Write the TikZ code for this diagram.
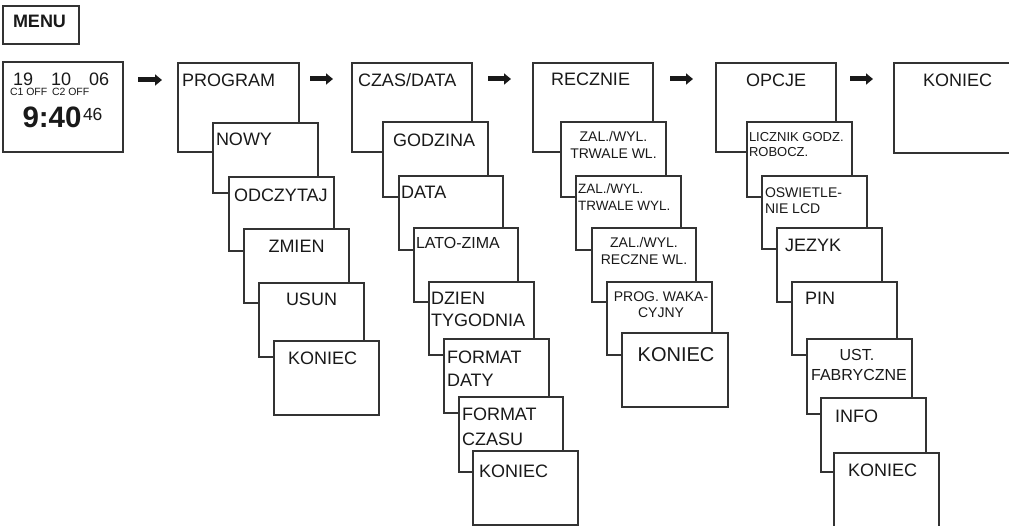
\documentclass[tikz,border=0pt]{standalone}
\usepackage{fontspec}
\setmainfont{Liberation Sans}
\usetikzlibrary{calc,arrows.meta}
\begin{document}
\begin{tikzpicture}[x=1pt,y=-1pt,
  box/.style={draw=black!80, line width=1.1pt, fill=white, inner sep=0pt, outer sep=0pt, anchor=north west},
  txt/.style={inner sep=0pt, outer sep=0pt, text=black!90, font=\fontsize{18}{21}\selectfont},
  mid/.style={txt, font=\fontsize{16}{19}\selectfont},
  sm/.style={txt, font=\fontsize{14}{16}\selectfont},
  xs/.style={txt, font=\fontsize{13.5}{16}\selectfont},
  big/.style={txt, font=\fontsize{20}{23}\selectfont},
  bigarrow/.style={draw=black!90, line width=5pt, -{Triangle[length=7pt,width=11pt]}}
]
\useasboundingbox (0,0) rectangle (1009,526);
\clip (0,0) rectangle (1009,526);

% MENU
\node[box, minimum width=76pt, minimum height=38pt] (menu) at (3,6) {};
\node[txt, anchor=base west, font=\fontsize{18}{21}\selectfont\bfseries] (tmenu) at (13,28) {MENU};

% display
\node[box, minimum width=120pt, minimum height=90pt] (disp) at (3,62) {};
\node[txt, anchor=base west] (d19) at (13,86) {19};
\node[txt, anchor=base west] (d10) at (51,86) {10};
\node[txt, anchor=base west] (d06) at (89,86) {06};
\node[txt, anchor=base west, font=\fontsize{10.5}{12}\selectfont] (dc1) at (10,96) {C1 OFF};
\node[txt, anchor=base west, font=\fontsize{10.5}{12}\selectfont] (dc2) at (52,96) {C2 OFF};
\node[txt, anchor=base west, font=\fontsize{29.5}{32}\selectfont\bfseries] (dtime) at (22.5,128) {9:40};
\node[txt, anchor=base west, font=\fontsize{17.5}{20}\selectfont] (dsec) at (83,121) {46};

% PROGRAM column
\node[box, minimum width=121pt, minimum height=89pt] (prog) at (178,63) {};
\node[txt, anchor=base west] (tprog) at (182,87) {PROGRAM};
\node[box, minimum width=105pt, minimum height=70pt] (p1) at (213,123) {};
\node[txt, anchor=base west] (tp1) at (216,146) {NOWY};
\node[box, minimum width=105pt, minimum height=74pt] (p2) at (229,177) {};
\node[txt, anchor=base west] (tp2) at (234,202) {ODCZYTAJ};
\node[box, minimum width=105pt, minimum height=74pt] (p3) at (244,229) {};
\node[txt, anchor=base] (tp3) at (296.5,253) {ZMIEN};
\node[box, minimum width=105pt, minimum height=74pt] (p4) at (259,283) {};
\node[txt, anchor=base] (tp4) at (311.5,306) {USUN};
\node[box, minimum width=105pt, minimum height=74pt] (p5) at (274,341) {};
\node[txt, anchor=base west] (tp5) at (288,364) {KONIEC};

% CZAS/DATA column
\node[box, minimum width=120pt, minimum height=89pt] (czas) at (352,63) {};
\node[txt, anchor=base west] (tczas) at (358,87) {CZAS/DATA};
\node[box, minimum width=105pt, minimum height=75pt] (c1) at (383,122) {};
\node[txt, anchor=base west] (tc1) at (393,147) {GODZINA};
\node[box, minimum width=104pt, minimum height=74pt] (c2) at (399,176) {};
\node[txt, anchor=base west] (tc2) at (401,199) {DATA};
\node[box, minimum width=104pt, minimum height=74pt] (c3) at (414,228) {};
\node[mid, anchor=base west] (tc3) at (416,249) {LATO-ZIMA};
\node[box, minimum width=105pt, minimum height=73pt] (c4) at (429,282) {};
\node[txt, anchor=base west] (tc4a) at (431,305) {DZIEN};
\node[txt, anchor=base west] (tc4b) at (431,327) {TYGODNIA};
\node[box, minimum width=105pt, minimum height=74pt] (c5) at (444,339) {};
\node[txt, anchor=base west] (tc5a) at (447,363) {FORMAT};
\node[txt, anchor=base west] (tc5b) at (447,386) {DATY};
\node[box, minimum width=104pt, minimum height=75pt] (c6) at (459,397) {};
\node[txt, anchor=base west] (tc6a) at (462,420) {FORMAT};
\node[txt, anchor=base west] (tc6b) at (462,445) {CZASU};
\node[box, minimum width=105pt, minimum height=74pt] (c7) at (473,451) {};
\node[txt, anchor=base west] (tc7) at (479,477) {KONIEC};

% RECZNIE column
\node[box, minimum width=120pt, minimum height=89pt] (recz) at (533,63) {};
\node[txt, anchor=base west] (trecz) at (551,86) {RECZNIE};
\node[box, minimum width=105pt, minimum height=75pt] (r1) at (561,122) {};
\node[sm, anchor=base] (tr1a) at (613.5,142) {ZAL./WYL.};
\node[sm, anchor=base] (tr1b) at (613.5,159) {TRWALE WL.};
\node[box, minimum width=105pt, minimum height=74pt] (r2) at (576,176) {};
\node[xs, anchor=base west] (tr2a) at (578,194) {ZAL./WYL.};
\node[xs, anchor=base west] (tr2b) at (578,211) {TRWALE WYL.};
\node[box, minimum width=104pt, minimum height=74pt] (r3) at (592,228) {};
\node[sm, anchor=base] (tr3a) at (644,248) {ZAL./WYL.};
\node[sm, anchor=base] (tr3b) at (644,265) {RECZNE WL.};
\node[box, minimum width=105pt, minimum height=73pt] (r4) at (607,282) {};
\node[sm, anchor=base] (tr4a) at (661,302) {PROG. WAKA-};
\node[sm, anchor=base] (tr4b) at (661,318) {CYJNY};
\node[box, minimum width=106pt, minimum height=74pt] (r5) at (622,333) {};
\node[big, anchor=base] (tr5) at (676,362) {KONIEC};

% OPCJE column
\node[box, minimum width=120pt, minimum height=89pt] (opc) at (716,63) {};
\node[txt, anchor=base] (topc) at (776,87) {OPCJE};
\node[box, minimum width=105pt, minimum height=75pt] (o1) at (747,122) {};
\node[xs, anchor=base west, font=\fontsize{13}{15}\selectfont] (to1a) at (749,142) {LICZNIK GODZ.};
\node[xs, anchor=base west, font=\fontsize{13}{15}\selectfont] (to1b) at (749,157) {ROBOCZ.};
\node[box, minimum width=105pt, minimum height=73pt] (o2) at (762,176) {};
\node[sm, anchor=base west] (to2a) at (765,198) {OSWIETLE-};
\node[sm, anchor=base west] (to2b) at (765,214) {NIE LCD};
\node[box, minimum width=105pt, minimum height=74pt] (o3) at (777,228) {};
\node[txt, anchor=base west] (to3) at (785,252) {JEZYK};
\node[box, minimum width=105pt, minimum height=73pt] (o4) at (792,282) {};
\node[txt, anchor=base west] (to4) at (805,305) {PIN};
\node[box, minimum width=105pt, minimum height=75pt] (o5) at (807,339) {};
\node[mid, anchor=base] (to5a) at (857,360) {UST.};
\node[mid, anchor=base] (to5b) at (859,381) {FABRYCZNE};
\node[box, minimum width=105pt, minimum height=74pt] (o6) at (821,398) {};
\node[txt, anchor=base west] (to6) at (835,422) {INFO};
\node[box, minimum width=105pt, minimum height=80pt] (o7) at (834,453) {};
\node[txt, anchor=base west] (to7) at (848,476) {KONIEC};

% top KONIEC
\node[box, minimum width=121pt, minimum height=90pt] (kon) at (894,63) {};
\node[txt, anchor=base west] (tkon) at (923,87) {KONIEC};

% arrows
\draw[bigarrow] ($(disp.north east)+(15,18)$) -- ($(prog.north west)+(-16,17)$);
\draw[bigarrow] ($(prog.north east)+(11,16)$) -- ($(czas.north west)+(-19,16)$);
\draw[bigarrow] ($(czas.north east)+(16,16)$) -- ($(recz.north west)+(-22,16)$);
\draw[bigarrow] ($(recz.north east)+(17,16)$) -- ($(opc.north west)+(-23,16)$);
\draw[bigarrow] ($(opc.north east)+(14,16)$) -- ($(kon.north west)+(-21,16)$);
\end{tikzpicture}
\end{document}
